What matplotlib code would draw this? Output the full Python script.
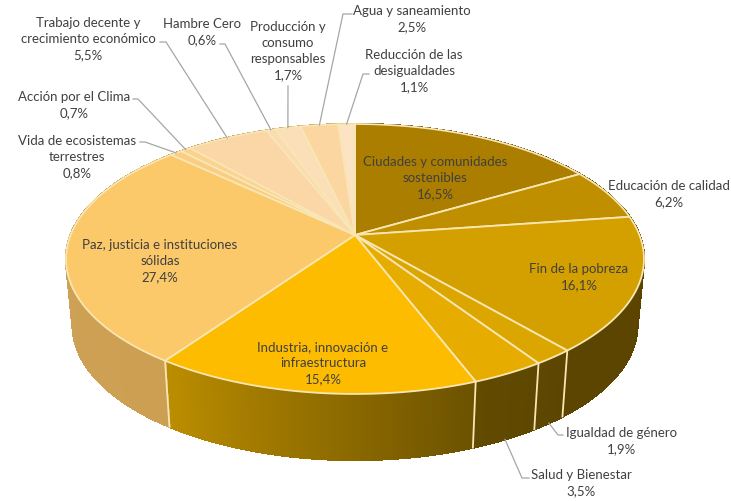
import numpy as np
import matplotlib
matplotlib.use('Agg')
import matplotlib.pyplot as plt
from matplotlib.colors import to_rgb
from matplotlib.collections import PolyCollection

names = ['Ciudades y comunidades\nsostenibles', 'Educación de calidad', 'Fin de la pobreza',
         'Igualdad de género', 'Salud y Bienestar', 'Industria, innovación e\ninfraestructura',
         'Paz, justicia e instituciones\nsólidas', 'Vida de ecosistemas\nterrestres',
         'Acción por el Clima', 'Trabajo decente y\ncrecimiento económico', 'Hambre Cero',
         'Producción y\nconsumo\nresponsables', 'Agua y saneamiento', 'Reducción de las\ndesigualdades']
values = [16.5, 6.2, 16.1, 1.9, 3.5, 15.4, 27.4, 0.8, 0.7, 5.5, 0.6, 1.7, 2.5, 1.1]

top_colors = ['#ab7e00', '#bf8f00', '#d4a000', '#dca600', '#e6ad00', '#fdbc00', '#fbc86a',
              '#fbcd82', '#fbd38f', '#fbd6a6', '#fbdcb0', '#fbdfb8', '#fbd6a0', '#fbe3c4']
side_from = ['#5a4400', '#5a4400', '#5a4400', '#5c4500', '#5e4700', '#6c5200', '#cc9f52',
             '#c09a50', '#c09a50', '#c09a50', '#c09a50', '#c09a50', '#c09a50', '#c09a50']
side_to = ['#5a4400', '#5a4400', '#5c4500', '#5e4700', '#624a00', '#bb8d00', '#d0a45a',
           '#c09a50', '#c09a50', '#c09a50', '#c09a50', '#c09a50', '#c09a50', '#c09a50']

# x, y of label centre
label_pos = [(435, 178), (669, 194), (579, 277), (621, 441), (581, 483), (323, 363), (160, 261),
             (77, 157), (74, 105), (88, 39), (202, 32), (288, 51), (412, 19), (414, 71)]
# leader start and elbow, None = no leader
leaders = {3: ((563, 436), (558, 436)), 4: ((529, 479), (522, 479)),
           7: ((140, 143), (145, 143)), 8: ((133, 100), (138, 100)),
           9: ((160, 43), (166, 43)), 10: ((220, 45), (225, 45)),
           11: ((288, 87), (288, 87)), 12: ((352, 15), (343, 15)),
           13: ((369, 75), (363, 75))}

cx, cy = 355, 236
persp = 0.1777
scale_x, scale_y = 284.4, 130.7
depth = 66
shrink = 0.977
edge = '#f8e6b4'
text_col = '#404040'


# Точка на верхней кромке диска
def rim(frac, lower=False):
    ang = 2 * np.pi * np.asarray(frac)
    u = np.sin(ang)
    v = -np.cos(ang)
    w = 1 - persp * v
    x = scale_x * u / w
    y = scale_y * v / w
    if lower:
        return cx + shrink * x, cy + y + depth
    return cx + x, cy + y


def wedge(f0, f1):
    t = np.linspace(f0, f1, max(int((f1 - f0) * 400), 4))
    x, y = rim(t)
    return np.column_stack([np.r_[cx, x], np.r_[cy, y]])


plt.rcParams['font.family'] = ['Lato', 'DejaVu Sans']
fig = plt.figure(figsize=(7.31, 5.02), dpi=100)
ax = fig.add_axes([0, 0, 1, 1])
ax.set_xlim(0, 731)
ax.set_ylim(502, 0)
ax.axis('off')

fracs = np.cumsum([0] + values) / np.sum(values)

# боковая стенка
for i in range(len(values)):
    t = np.linspace(fracs[i], fracs[i + 1], max(int((fracs[i + 1] - fracs[i]) * 600), 3))
    x0, y0 = rim(t)
    x1, y1 = rim(t, lower=True)
    c0, c1 = np.array(to_rgb(side_from[i])), np.array(to_rgb(side_to[i]))
    quads, cols = [], []
    for j in range(len(t) - 1):
        quads.append([(x0[j], y0[j]), (x0[j + 1], y0[j + 1]), (x1[j + 1], y1[j + 1]), (x1[j], y1[j])])
        cols.append(c0 + (c1 - c0) * j / max(len(t) - 2, 1))
    ax.add_collection(PolyCollection(quads, facecolors=cols, edgecolors=cols, linewidths=1.0,
                                     antialiaseds=False, zorder=2))

for f in fracs[3:7]:
    xa, ya = rim(f)
    xb, yb = rim(f, lower=True)
    ax.plot([xa, xb], [ya, yb], color=edge, lw=1.3, zorder=3)

# верх диска
for i in range(len(values)):
    ax.fill(*wedge(fracs[i], fracs[i + 1]).T, facecolor=top_colors[i], edgecolor=edge, lw=1.3, zorder=4,
            joinstyle='round')

# подписи
for i in range(len(values)):
    txt = names[i] + '\n' + f'{values[i]:.1f}'.replace('.', ',') + '%'
    ax.text(label_pos[i][0], label_pos[i][1], txt, ha='center', va='center', fontsize=9.5,
            color=text_col, linespacing=1.42, zorder=6)
    if i in leaders:
        mid = (fracs[i] + fracs[i + 1]) / 2
        ex, ey = rim(mid, lower=i in (3, 4))
        p0, p1 = leaders[i]
        ax.plot([p0[0], p1[0], ex], [p0[1], p1[1], ey], color='#a6a6a6', lw=0.9, zorder=5)

fig.savefig('out.png', dpi=100, facecolor='white')
